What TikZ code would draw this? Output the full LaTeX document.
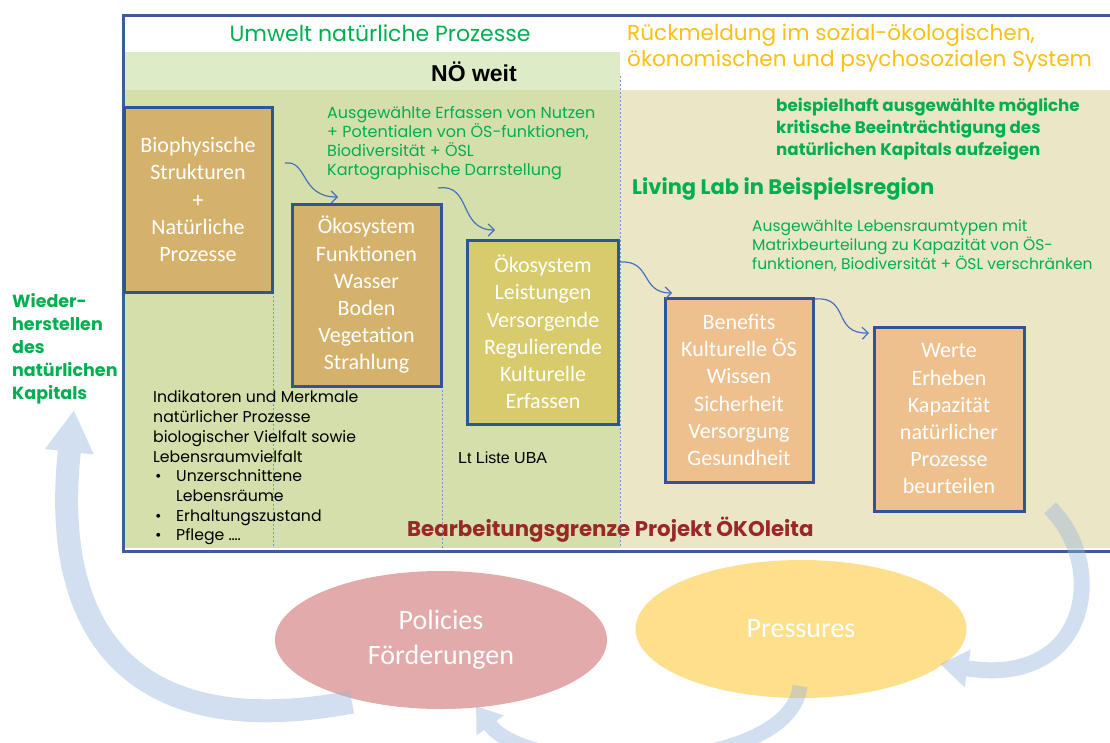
\documentclass[tikz,border=0pt]{standalone}
\usepackage{fontspec}
\setmainfont{Carlito}
\newfontfamily\cg{Poppins}
\newfontfamily\arial{Liberation Sans}
\usetikzlibrary{arrows.meta,shapes.geometric}
\definecolor{frameblue}{RGB}{59,94,150}
\definecolor{boxblue}{RGB}{47,85,151}
\definecolor{bandgreen}{RGB}{221,235,199}
\definecolor{areagreen}{RGB}{212,223,171}
\definecolor{areabeige}{RGB}{234,230,198}
\definecolor{boxtan}{RGB}{213,178,108}
\definecolor{boxolive}{RGB}{216,203,108}
\definecolor{boxpeach}{RGB}{238,192,142}
\definecolor{txtgreen}{RGB}{0,176,80}
\definecolor{txtyellow}{RGB}{250,192,20}
\definecolor{txtred}{RGB}{155,40,40}
\definecolor{dashblue}{RGB}{120,150,200}
\definecolor{arrowblue}{RGB}{70,114,190}
\definecolor{bigarrow}{RGB}{150,180,222}
\definecolor{pinkell}{RGB}{226,170,170}
\definecolor{yellell}{RGB}{254,224,140}
\tikzset{
  sbox/.style={draw=boxblue, line width=3pt, text=white, align=center, inner sep=0pt,
    font=\fontsize{22}{27.2}\selectfont},
  dline/.style={draw=dashblue, line width=0.8pt, dash pattern=on 2pt off 2pt},
  flow/.style={draw=arrowblue, line width=1.2pt, -{Straight Barb[length=6pt,width=12pt,line width=1.2pt]}},
  cgtext/.style={font=\cg, inner sep=0pt, align=left},
  bigarr/.style={draw=bigarrow, line cap=butt},
  ell/.style={ellipse, inner sep=0pt, text=white, align=center, font=\fontsize{28}{35}\selectfont}
}
\begin{document}
\begin{tikzpicture}[x=1pt,y=-1pt]
\clip (0,0) rectangle (1110,742);
\fill[white] (0,0) rectangle (1110,742);
% frame areas
\fill[bandgreen] (125,52) rectangle (620,90);
\fill[areagreen] (125,90) rectangle (620,548);
\fill[areabeige] (620,90) rectangle (1112,548);
% dashed guide lines
\draw[dline] (273,292) -- (273,548);
\draw[dline] (442,386) -- (442,548);
\draw[dline] (620,76) -- (620,548);
% frame border
\draw[frameblue, line width=3pt] (123.5,15.5) rectangle (1118,551.5);
% headings and texts
\node[cgtext, text=txtgreen, font=\cg\fontsize{22}{26}\selectfont] (hUmwelt) at (380,33) {Umwelt natürliche Prozesse};
\node[cgtext, text=txtyellow, anchor=west, font=\cg\fontsize{21.6}{26}\selectfont] (hRueck) at (627,48) {Rückmeldung im sozial-ökologischen,\\ökonomischen und psychosozialen System};
\node[inner sep=0pt, font=\arial\bfseries\fontsize{23}{26}\selectfont] (hNoe) at (474,72) {NÖ weit};
\node[cgtext, text=txtgreen, anchor=west, font=\cg\fontsize{16}{19.3}\selectfont] (tAusg) at (327,143) {Ausgewählte Erfassen von Nutzen\\+ Potentialen von ÖS-funktionen,\\Biodiversität + ÖSL\\Kartographische Darrstellung};
\node[cgtext, text=txtgreen, anchor=west, font=\cg\bfseries\fontsize{16.7}{22}\selectfont] (tBeisp) at (776,129) {beispielhaft ausgewählte mögliche\\kritische Beeinträchtigung des\\natürlichen Kapitals aufzeigen};
\node[cgtext, text=txtgreen, anchor=west, font=\cg\bfseries\fontsize{21}{25}\selectfont] (tLiving) at (632,189) {Living Lab in Beispielsregion};
\node[cgtext, text=txtgreen, anchor=west, font=\cg\fontsize{15.5}{19}\selectfont] (tLebens) at (752,246) {Ausgewählte Lebensraumtypen mit\\Matrixbeurteilung zu Kapazität von ÖS-\\funktionen, Biodiversität + ÖSL verschränken};
\node[cgtext, text=txtgreen, anchor=west, font=\cg\bfseries\fontsize{17.5}{23}\selectfont] (tWieder) at (12,349) {Wieder-\\herstellen\\des\\natürlichen\\Kapitals};
\node[cgtext, text=black, anchor=west, font=\cg\fontsize{15.7}{19.7}\selectfont] (tIndik) at (153,468) {Indikatoren und Merkmale\\natürlicher Prozesse\\biologischer Vielfalt sowie\\Lebensraumvielfalt\\\makebox[23pt][l]{\hspace{2pt}•}Unzerschnittene\\\hspace*{23pt}Lebensräume\\\makebox[23pt][l]{\hspace{2pt}•}Erhaltungszustand\\\makebox[23pt][l]{\hspace{2pt}•}Pflege ….};
\node[inner sep=0pt, anchor=west, font=\arial\fontsize{16}{19}\selectfont] (tLt) at (458,458) {Lt Liste UBA};
\node[cgtext, text=txtred, anchor=west, font=\cg\bfseries\fontsize{21.3}{24}\selectfont] (tBearb) at (407,530) {Bearbeitungsgrenze Projekt ÖKOleita};
% boxes
\node[sbox, fill=boxtan, minimum width=148pt, minimum height=185pt] (b1) at (198,199.5) {Biophysische\\Strukturen\\+\\Natürliche\\Prozesse};
\node[sbox, fill=boxtan, minimum width=149pt, minimum height=182pt] (b2) at (366.5,295) {Ökosystem\\Funktionen\\Wasser\\Boden\\Vegetation\\Strahlung};
\node[sbox, fill=boxolive, minimum width=151pt, minimum height=184pt] (b3) at (543,332) {Ökosystem\\Leistungen\\Versorgende\\Regulierende\\Kulturelle\\Erfassen};
\node[sbox, fill=boxpeach, minimum width=148pt, minimum height=184pt] (b4) at (739,390) {Benefits\\Kulturelle ÖS\\Wissen\\Sicherheit\\Versorgung\\Gesundheit};
\node[sbox, fill=boxpeach, minimum width=150pt, minimum height=184pt] (b5) at (949,419) {Werte\\Erheben\\Kapazität\\natürlicher\\Prozesse\\beurteilen};
% small flow arrows
\coordinate (a1s) at (285,163); \coordinate (a1e) at (338,197);
\coordinate (a2s) at (438,188); \coordinate (a2e) at (495,230);
\coordinate (a3s) at (620,262); \coordinate (a3e) at (672,293);
\coordinate (a4s) at (815,299); \coordinate (a4e) at (869,333);
\draw[flow] (a1s) .. controls (308,160) and (300,197) .. (a1e);
\draw[flow] (a2s) .. controls (472,183) and (458,230) .. (a2e);
\draw[flow] (a3s) .. controls (652,260) and (640,293) .. (a3e);
\draw[flow] (a4s) .. controls (850,296) and (832,334) .. (a4e);
% ellipses
\node[ell, fill=pinkell, minimum width=332pt, minimum height=138pt] (pol) at (441,640) {Policies\\Förderungen};
\node[ell, fill=yellell, minimum width=331pt, minimum height=138pt] (pre) at (801,629) {Pressures};
% big cycle arrows
\coordinate (Ls) at (352,702); \coordinate (Le) at (74,410);
\coordinate (Rs) at (1050,508); \coordinate (Re) at (940,664);
\coordinate (Bs) at (800,686); \coordinate (Be) at (476,706);
\begin{scope}[transparency group, opacity=0.42]
\draw[bigarr, line width=23pt, -{Triangle[length=42pt,width=46pt]}] (Ls) .. controls (125,745) and (50,625) .. (Le);
\end{scope}
\begin{scope}[transparency group, opacity=0.42]
\draw[bigarr, line width=16pt, -{Triangle[length=28pt,width=36pt]}] (Rs) .. controls (1108,565) and (1090,688) .. (Re);
\end{scope}
\begin{scope}[transparency group, opacity=0.42]
\draw[bigarr, line width=15pt, -{Triangle[length=24pt,width=32pt]}] (Bs) .. controls (790,775) and (530,780) .. (Be);
\end{scope}
\end{tikzpicture}
\end{document}
